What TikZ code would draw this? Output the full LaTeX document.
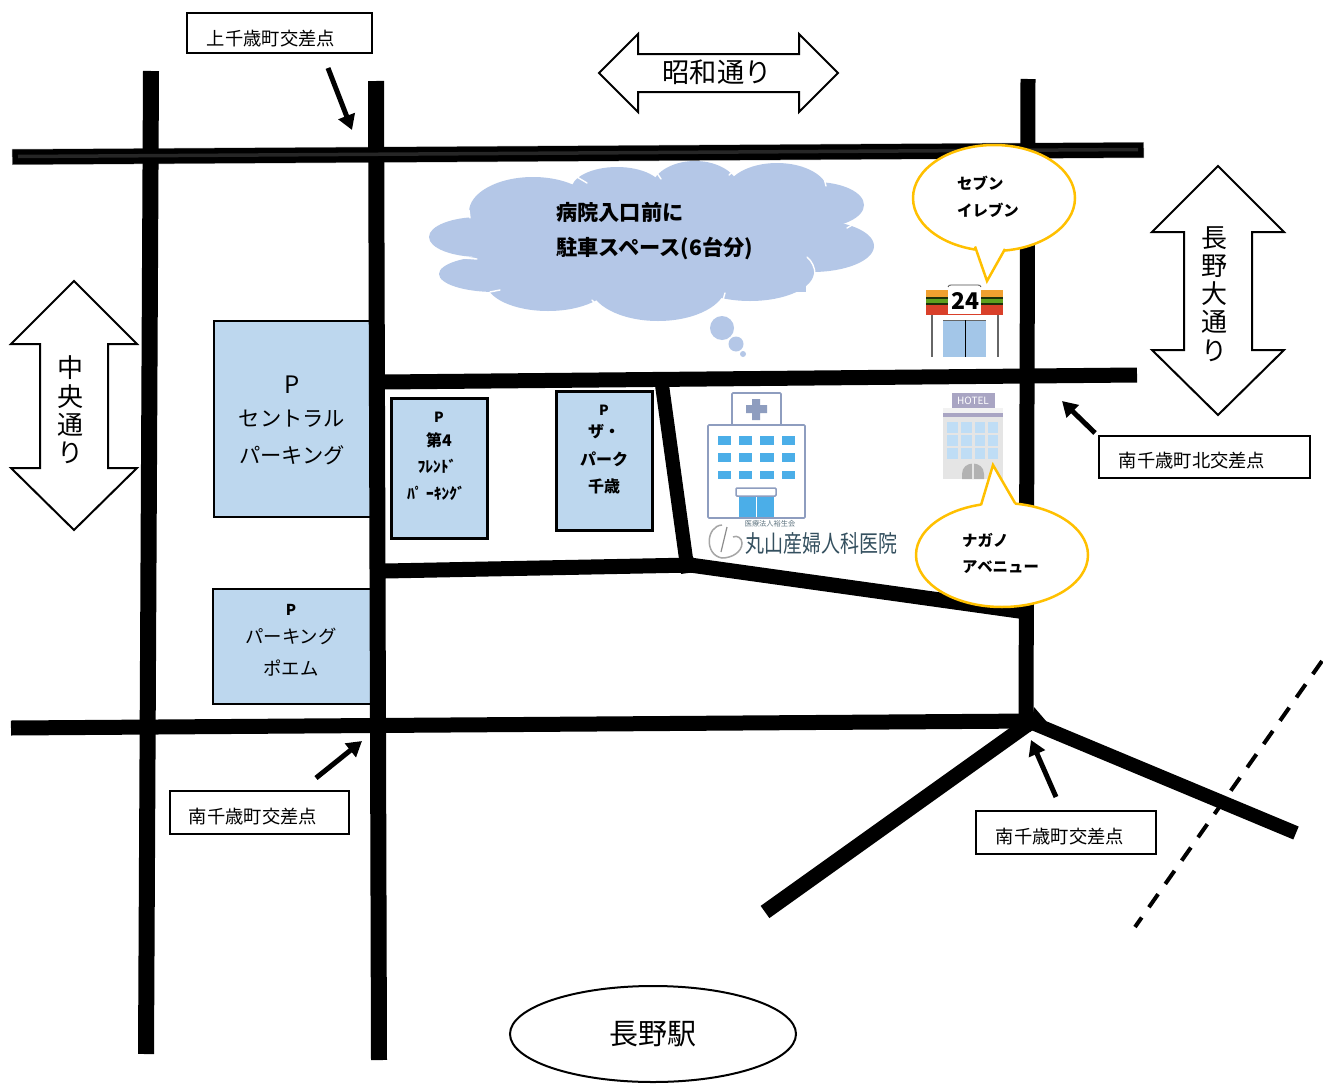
\documentclass[tikz,border=0pt]{standalone}
\usepackage{fontspec}
\setmainfont{Noto Sans CJK JP}
\usetikzlibrary{arrows.meta,shapes.geometric}
\newcommand{\pxfont}[1]{\fontsize{#1}{#1}\selectfont}
\definecolor{parkblue}{HTML}{BDD7EE}
\definecolor{cloudblue}{HTML}{B4C7E7}
\definecolor{calloutyellow}{HTML}{FFC000}
\definecolor{hospline}{HTML}{8E9DBF}
\definecolor{hospblue}{HTML}{4BAEE8}
\definecolor{logotext}{HTML}{34505F}
\definecolor{hotelpurple}{HTML}{A9A5C3}
\definecolor{hotelwin}{HTML}{BFDDF5}
\definecolor{doorblue}{HTML}{A3C6E8}
\definecolor{storeorange}{HTML}{F0A030}
\definecolor{storegreen}{HTML}{5FA01E}
\definecolor{storered}{HTML}{D9402A}
\tikzset{
  x=1pt,y=-1pt,
  road/.style={draw=black,line width=15pt,line cap=butt},
  blockarrow/.style={draw=black,line width=2pt,fill=white,line join=miter},
  parkbox/.style={draw=black,fill=parkblue},
  parktext/.style={inner sep=0pt,anchor=center,text=black},
  labelbox/.style={draw=black,line width=2pt,fill=white,inner sep=0pt},
  labeltext/.style={inner sep=0pt,font=\pxfont{18.3}},
  pointer/.style={draw=black,line width=5pt,-{Triangle[length=15pt,width=17pt]}},
  calloutline/.style={draw=calloutyellow,line width=2.5pt,line join=miter},
  callouttext/.style={inner sep=0pt,anchor=west,font=\pxfont{15.4}\bfseries},
  cloudpart/.style={fill=cloudblue,draw=none},
  cloudcrease/.style={draw=white,line width=1.4pt,line cap=round},
}
\begin{document}
\begin{tikzpicture}
\fill[white] (0,0) rectangle (1323,1084);
\useasboundingbox (0,0) rectangle (1323,1084);

% parking boxes (below the roads)
\draw[parkbox,line width=2pt] (214,321) rectangle (372,517);
\draw[parkbox,line width=2pt] (213,589) rectangle (371,704);
\draw[parkbox,line width=3pt] (391,398) rectangle (487.5,538.5);
\draw[parkbox,line width=3pt] (556,391) rectangle (652.5,530.5);

% roads
\draw[road,draw=black!35,line width=16pt] (12,157) -- (1144,150);
\draw[road,line width=16pt] (151,71) -- (146,1054);
\draw[road,line width=16pt] (376,81) -- (379,1060);
\draw[road] (1028,79) -- (1026,722);
\draw[road] (12.5,157) -- (1143.5,150);
\draw[draw=black!85,line width=3.5pt] (18,156.5) -- (1138,149.5);
\draw[road] (383,382) -- (1137,375);
\draw[road] (11,728) -- (1034,721);
\draw[road] (385,571) -- (694,565);
\draw[road,line width=14pt] (662,385) -- (688,573);
\draw[road] (690,565) -- (1026,612);
\draw[road] (1031,722) -- (765,912);
\draw[road,line width=14pt] (1030,722) -- (1296,833);
\fill[black] (1034,707) -- (1046,721) -- (1030,732) -- cycle;
\draw[black,line width=4pt,dash pattern=on 16pt off 12.5pt] (1322,661) -- (1135,927);

% block arrows
\draw[blockarrow] (599,73)--(638,34)--(638,54)--(799,54)--(799,34)--(838,73)--(799,112)--(799,92)--(638,92)--(638,112)--cycle;
\draw[blockarrow] (74,281)--(137,344)--(108,344)--(108,468)--(137,468)--(74,530)--(11,468)--(40,468)--(40,344)--(11,344)--cycle;
\draw[blockarrow] (1218,166)--(1284,232)--(1252,232)--(1252,350)--(1284,350)--(1218,415)--(1152,350)--(1184,350)--(1184,232)--(1152,232)--cycle;
\node[inner sep=0pt,font=\pxfont{27.3}] (showa) at (717,72) {昭和通り};
\node[inner sep=0pt,align=center,font=\fontsize{26}{28.4}\selectfont] (chuo) at (70,410) {中\\央\\通\\り};
\node[inner sep=0pt,align=center,font=\fontsize{26}{28.2}\selectfont] (nagano) at (1214,294) {長\\野\\大\\通\\り};

% intersection labels and pointers
\node[labelbox,minimum width=185pt,minimum height=40pt] (kamichitose) at (279.5,33) {};
\node[labeltext] (kamitext) at (271,39) {上千歳町交差点};
\node[labelbox,minimum width=211pt,minimum height=42pt] (kita) at (1204.5,457) {};
\node[labeltext] (kitatext) at (1192,461) {南千歳町北交差点};
\node[labelbox,minimum width=179pt,minimum height=43pt] (minamiw) at (259.5,812.5) {};
\node[labeltext] (wtext) at (253,817) {南千歳町交差点};
\node[labelbox,minimum width=180pt,minimum height=43pt] (minamie) at (1066,832.5) {};
\node[labeltext] (etext) at (1060,837) {南千歳町交差点};
\coordinate (p1a) at (328,68); \coordinate (p1b) at (352,130);
\coordinate (p2a) at (1095,433); \coordinate (p2b) at (1062,401);
\coordinate (p3a) at (316,778); \coordinate (p3b) at (362,741);
\coordinate (p4a) at (1056,797); \coordinate (p4b) at (1031,740);
\draw[pointer] (p1a) -- (p1b);
\draw[pointer] (p2a) -- (p2b);
\draw[pointer] (p3a) -- (p3b);
\draw[pointer] (p4a) -- (p4b);

% parking texts
\node[parktext,font=\pxfont{24}] (c1) at (292,385) {P};
\node[parktext,font=\pxfont{21.3}] (c2) at (292,419) {セントラル};
\node[parktext,font=\pxfont{21.3}] (c3) at (292,455) {パーキング};
\node[parktext,font=\pxfont{14}\bfseries] (f1) at (439,417) {P};
\node[parktext,font=\pxfont{16}\bfseries] (f2) at (439,440) {第4};
\node[parktext,font=\pxfont{15.5}\bfseries] (f3) at (437,466) {ﾌﾚﾝﾄﾞ};
\node[parktext,font=\pxfont{15.5}\bfseries] (f4) at (436,493) {ﾊﾟ ｰｷﾝｸﾞ};
\node[parktext,font=\pxfont{14}\bfseries] (z1) at (604,410) {P};
\node[parktext,font=\pxfont{16}\bfseries] (z2) at (604,432) {ザ・};
\node[parktext,font=\pxfont{16}\bfseries] (z3) at (604,459) {パーク};
\node[parktext,font=\pxfont{16}\bfseries] (z4) at (604,486) {千歳};
\node[parktext,font=\pxfont{15}\bfseries] (p1) at (291,610) {P};
\node[parktext,font=\pxfont{18.4}] (p2) at (291,636) {パーキング};
\node[parktext,font=\pxfont{18.4}] (p3) at (291,668) {ポエム};

% cloud
\fill[cloudpart] (480,237) ellipse [x radius=51,y radius=20];
\fill[cloudpart] (495,274) ellipse [x radius=56,y radius=18];
\fill[cloudpart] (533,212) ellipse [x radius=64,y radius=35];
\fill[cloudpart] (617,190) ellipse [x radius=46,y radius=23];
\fill[cloudpart] (695,190) ellipse [x radius=44,y radius=29];
\fill[cloudpart] (777,192) ellipse [x radius=51,y radius=29];
\fill[cloudpart] (815,205) ellipse [x radius=49,y radius=23];
\fill[cloudpart] (812,246) ellipse [x radius=62,y radius=26];
\fill[cloudpart] (750,272) ellipse [x radius=64,y radius=29];
\fill[cloudpart] (806,280) rectangle (790,292);
\fill[cloudpart] (658,285) ellipse [x radius=68,y radius=36];
\fill[cloudpart] (548,282) ellipse [x radius=62,y radius=29];
\fill[cloudpart] (650,240) ellipse [x radius=175,y radius=55];
\fill[cloudpart] (722,328) circle (12);
\fill[cloudpart] (736,344) circle (7.5);
\fill[cloudpart] (743,354) circle (3);
\draw[cloudcrease] (577,177) -- (587,183);
\draw[cloudcrease] (657,173) -- (661,179);
\draw[cloudcrease] (729,175) -- (736,169);
\draw[cloudcrease] (824,178) -- (826,186);
\draw[cloudcrease] (847,228) -- (864,218);
\draw[cloudcrease] (807,257) .. controls (812,261) and (815,268) .. (815,274);
\draw[cloudcrease] (725,293) -- (723,300);
\draw[cloudcrease] (592,300) -- (598,307);
\draw[cloudcrease] (490,292) -- (500,290);
\draw[cloudcrease] (450,257) -- (477,259);
\draw[cloudcrease] (470,218) -- (469,210);
\node[inner sep=0pt,anchor=west,font=\pxfont{21.2}\bfseries] (cl1) at (556,212) {病院入口前に};
\node[inner sep=0pt,anchor=west,font=\pxfont{21.2}\bfseries] (cl2) at (556,249) {駐車スペース(6台分)};

% seven eleven callout
\draw[calloutline,fill=white] (994,198) ellipse [x radius=81,y radius=53];
\fill[white] (975,245) -- (987,281) -- (1005,247) -- cycle;
\draw[calloutline] (975,246.5) -- (987,281) -- (1005,249);
\node[callouttext] (s1) at (957,183) {セブン};
\node[callouttext] (s2) at (957,210) {イレブン};

% convenience store icon
\fill[storeorange] (926,290) rectangle (1003,297);
\fill[black!70!storegreen] (926,297) rectangle (1003,299);
\fill[storegreen] (926,299) rectangle (1003,303);
\fill[black!70!storegreen] (926,303) rectangle (1003,305);
\fill[storered] (926,305) rectangle (1003,315);
\fill[white] (948,286) rectangle (981,314);
\draw[black!70,line width=0.8pt] (948,287) .. controls (949,285) .. (952,285) -- (977,285) .. controls (980,285) .. (981,287);
\node[inner sep=0pt,font=\pxfont{23}\bfseries] (s24) at (965,301) {24};
\draw[black!60,line width=1.5pt] (932,315) -- (932,357) (998,315) -- (998,357);
\fill[doorblue] (943,320) rectangle (986,357);
\draw[black!60,line width=1pt] (943,320.5) -- (986,320.5);
\draw[black,line width=1pt] (965,320) -- (965,357);

% hospital icon
\draw[hospline,line width=1.6pt,fill=white,rounded corners=1pt] (732,393) rectangle (781,425);
\fill[hospline] (752,399) rectangle (760,420) (746,405) rectangle (767,413);
\draw[hospline,line width=1.6pt,fill=white,rounded corners=1pt] (708,425) rectangle (805,518);
\foreach \xa/\xb in {718/731,739/752,760/774,782/795}{
  \foreach \ya/\yb in {436/445,453/462,471/479}{
    \fill[hospblue] (\xa,\ya) rectangle (\xb,\yb);
  }
}
\fill[hospblue] (739,496) rectangle (774,517);
\draw[white,line width=0.8pt] (756,496) -- (756,517);
\draw[hospline,line width=1.5pt,fill=white,rounded corners=1pt] (736,488) rectangle (776,496);
\node[inner sep=0pt,text=logotext!80,font=\pxfont{7.2}] (lg1) at (770,524) {医療法人裕生会};
\node[inner sep=0pt,text=logotext,font=\pxfont{19}] (lg2) at (821,543) {\scalebox{1}[1.25]{丸山産婦人科医院}};
\draw[black!35,line width=1.5pt] (722,525) .. controls (706,526) and (704,555) .. (722,558) .. controls (732,558) and (742,552) .. (742,543) .. controls (742,538) and (737,535) .. (733,537);
\draw[black!45,line width=1.2pt] (727,527) -- (721,552);

% hotel icon
\fill[black!10] (943,417) rectangle (1003,479);
\fill[black!5] (943,408) rectangle (1003,413);
\fill[hotelpurple] (952,393) rectangle (995,408);
\fill[hotelpurple] (943,413) rectangle (1003,417);
\node[inner sep=0pt,text=white,font=\pxfont{10}] (hotel) at (973,401) {HOTEL};
\foreach \xa/\xb in {947/958,961/972,975/985,988/998}{
  \foreach \ya/\yb in {422/433,435/446,448/459}{
    \fill[hotelwin] (\xa,\ya) rectangle (\xb,\yb);
  }
}
\fill[black!30] (962,479) -- (962,474) .. controls (962,460) and (984,460) .. (984,474) -- (984,479) -- cycle;
\draw[black!10,line width=1.2pt] (973,462) -- (973,479);

% nagano avenue callout
\draw[calloutline,fill=white] (1002,555) ellipse [x radius=86,y radius=52];
\fill[white] (981,507) -- (993,465) -- (1015,505) -- cycle;
\draw[calloutline] (981,505) -- (993,465) -- (1015,503);
\node[callouttext] (n1) at (962,540) {ナガノ};
\node[callouttext] (n2) at (962,567) {アベニュー};

% station
\node[draw=black,line width=2pt,fill=white,ellipse,minimum width=286pt,minimum height=96pt,inner sep=0pt] (eki) at (653,1034) {};
\node[inner sep=0pt,font=\pxfont{29}] (ekitext) at (653,1034) {長野駅};
\end{tikzpicture}
\end{document}
